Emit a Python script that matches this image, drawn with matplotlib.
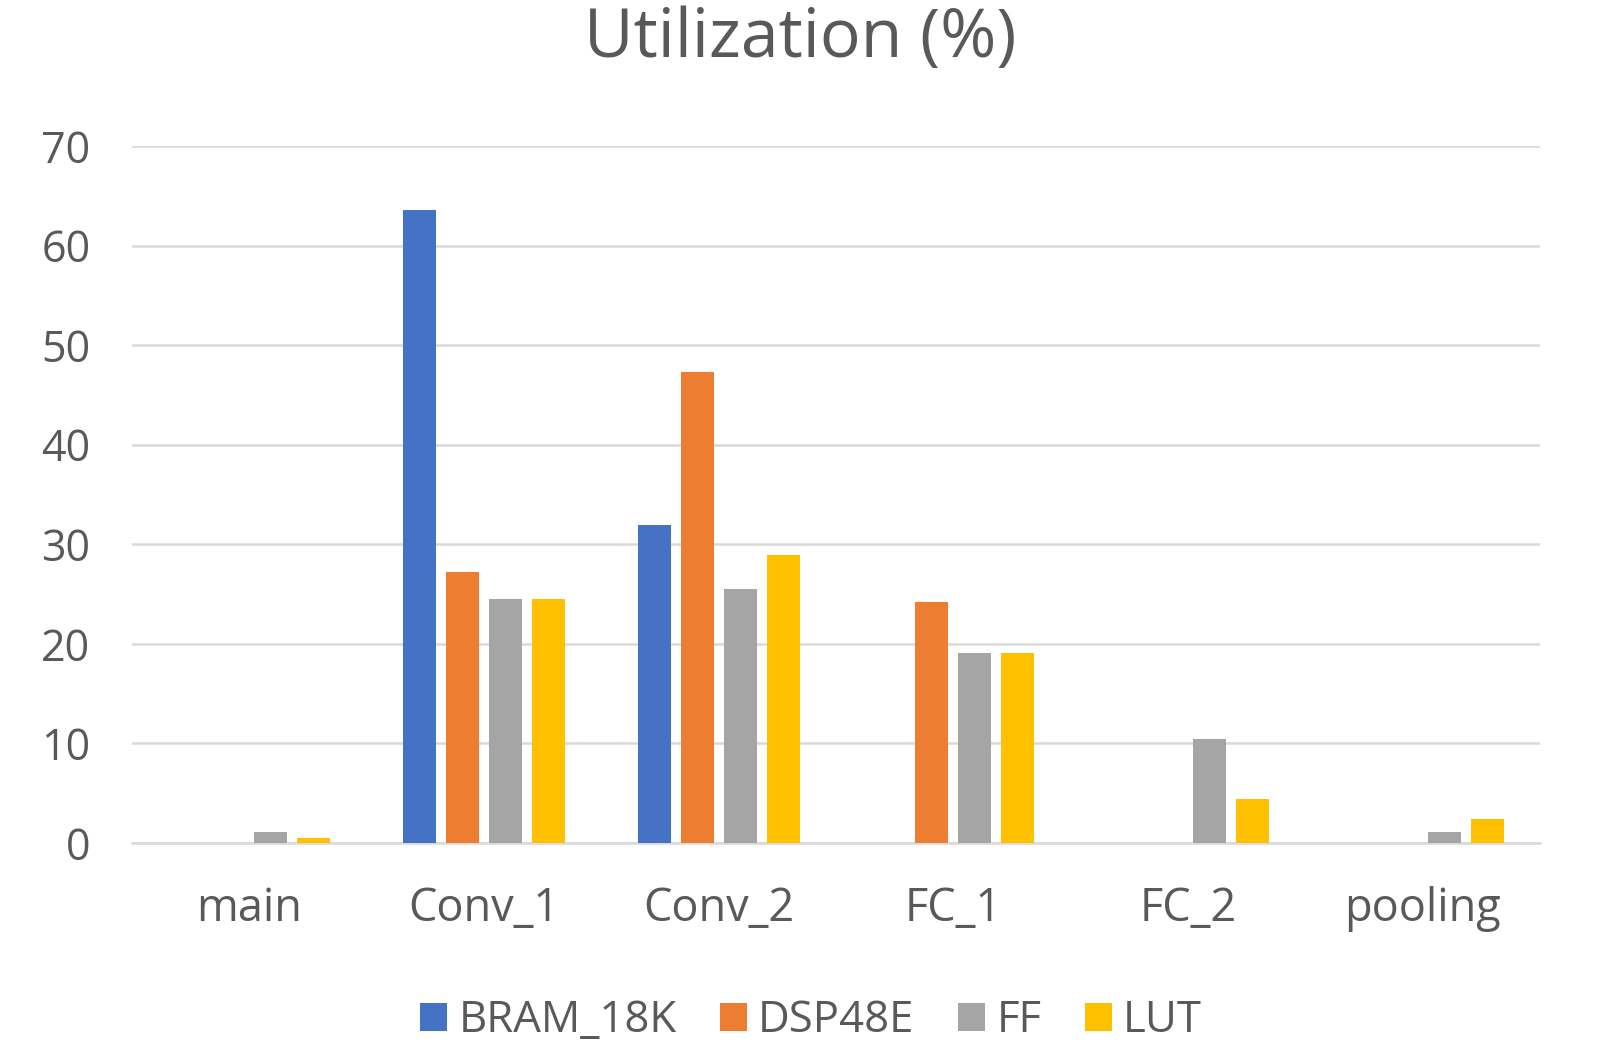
import numpy as np
import matplotlib
matplotlib.use('Agg')
import matplotlib.pyplot as plt

plt.rcParams['font.family'] = ['Open Sans', 'DejaVu Sans']

# data
categories = ['main', 'Conv_1', 'Conv_2', 'FC_1', 'FC_2', 'pooling']
bram_18k = [0, 63.6, 31.9, 0, 0, 0]
dsp48e = [0, 27.2, 47.3, 24.2, 0, 0]
ff = [1.1, 24.5, 25.5, 19.1, 10.4, 1.1]
lut = [0.5, 24.5, 28.9, 19.1, 4.4, 2.4]

series = [('BRAM_18K', bram_18k, '#4472C4'),
          ('DSP48E', dsp48e, '#ED7D31'),
          ('FF', ff, '#A5A5A5'),
          ('LUT', lut, '#FFC000')]

txt = '#595959'

fig = plt.figure(figsize=(16, 10.47), dpi=100)
ax = fig.add_axes([0.0825, 0.1948, 0.88, 0.6658])

x = np.arange(len(categories))
w = 0.1406
step = 0.1832
for i, (name, vals, col) in enumerate(series):
    ax.bar(x + (i - 1.5) * step, vals, width=w, color=col, label=name, zorder=3)

ax.set_xlim(-0.5, len(categories) - 0.5)
ax.set_ylim(0, 70)
ax.set_yticks(range(0, 80, 10))
ax.set_xticks(x)
ax.set_xticklabels(categories)
ax.grid(axis='y', color='#D9D9D9', linewidth=1.8, zorder=0)
for s in ['top', 'right', 'left']:
    ax.spines[s].set_visible(False)
ax.spines['bottom'].set_color('#D9D9D9')
ax.spines['bottom'].set_linewidth(1.8)
ax.tick_params(axis='both', length=0, labelcolor=txt)
ax.tick_params(axis='y', pad=30, labelsize=31)
ax.tick_params(axis='x', pad=31, labelsize=32.5)

fig.text(0.5, 1 - 57 / 1047, 'Utilization (%)', ha='center', va='baseline',
         fontsize=49, color=txt)

leg = fig.legend(loc='center', bbox_to_anchor=(0.507, 1 - 1021 / 1047), ncol=4,
                 frameon=False, fontsize=31.5, handlelength=0.62, handleheight=0.62,
                 handletextpad=0.25, columnspacing=1.0, labelcolor=txt)

plt.savefig('out.png', dpi=100)
plt.close()
